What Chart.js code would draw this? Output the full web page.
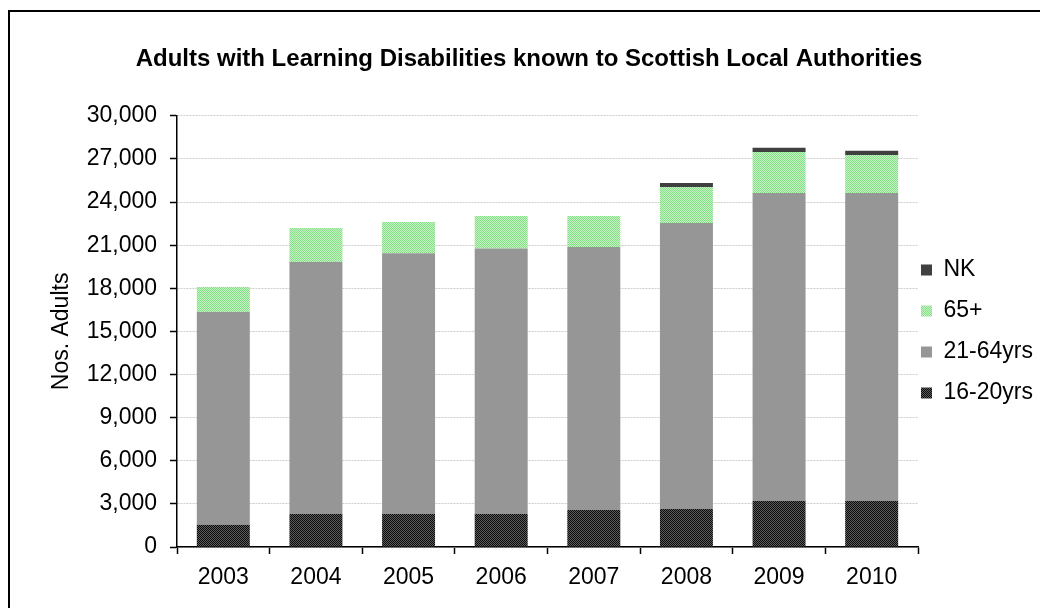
<!DOCTYPE html>
<html>
<head>
<meta charset="utf-8">
<script src="https://cdn.jsdelivr.net/npm/chart.js@4.4.1/dist/chart.umd.min.js"></script>
<style>
    html, body { margin: 0; padding: 0; background: #fff; overflow: hidden; }
    #wrap { position: relative; width: 1040px; height: 608px; }
    #frame { position: absolute; left: 8px; top: 10px; width: 1100px; height: 700px; border: 2px solid #000; }
    #chart { position: absolute; left: 0; top: 0; }
</style>
</head>
<body>
<div id="wrap">
    <canvas id="chart" width="1040" height="608"></canvas>
    <div id="frame"></div>
</div>
<script>
// values
const years = ['2003', '2004', '2005', '2006', '2007', '2008', '2009', '2010'];
const age16to20 = [1550, 2300, 2300, 2300, 2580, 2650, 3200, 3200];
const age21to64 = [14800, 17530, 18140, 18460, 18300, 19900, 21430, 21430];
const age65plus = [1740, 2370, 2180, 2270, 2150, 2500, 2860, 2650];
const notKnown = [0, 0, 0, 0, 0, 280, 280, 280];
const yTicks = [0, 3000, 6000, 9000, 12000, 15000, 18000, 21000, 24000, 27000, 30000];

const fontFamily = "'Liberation Sans', Arial, sans-serif";

function makePattern(a, b) {
    const c = document.createElement('canvas');
    c.width = 2;
    c.height = 2;
    const g = c.getContext('2d');
    g.fillStyle = a;
    g.fillRect(0, 0, 2, 2);
    g.fillStyle = b;
    g.fillRect(1, 0, 1, 1);
    g.fillRect(0, 1, 1, 1);
    return g.createPattern(c, 'repeat');
}

const darkHatch = makePattern('#0c0c0c', '#5c5c5c');
const greenHatch = makePattern('#86de86', '#c4f4c4');

// nudge the legend so the boxes sit close to the plot, like the original
const legendShift = {
    id: 'legendShift',
    afterLayout(chart) {
        if (chart.legend) chart.legend.left -= 15;
    }
};

Chart.defaults.color = '#000';
Chart.defaults.font.family = fontFamily;

new Chart(document.getElementById('chart'), {
    type: 'bar',
    data: {
        labels: years,
        datasets: [
            { label: '16-20yrs', data: age16to20, backgroundColor: darkHatch },
            { label: '21-64yrs', data: age21to64, backgroundColor: '#969696' },
            { label: '65+', data: age65plus, backgroundColor: greenHatch },
            { label: 'NK', data: notKnown, backgroundColor: '#404040' }
        ]
    },
    options: {
        responsive: false,
        animation: false,
        layout: { padding: { left: 18, right: 0, top: 0, bottom: 0 } },
        datasets: {
            bar: { barPercentage: 0.572, categoryPercentage: 1, borderWidth: 0 }
        },
        plugins: {
            title: {
                display: true,
                text: 'Adults with Learning Disabilities known to Scottish Local Authorities',
                font: { size: 24, weight: 'bold' },
                color: '#000',
                padding: { top: 45, bottom: 42 }
            },
            legend: {
                position: 'right',
                fullSize: false,
                reverse: true,
                maxWidth: 122,
                labels: {
                    font: { size: 23 },
                    boxWidth: 11,
                    boxHeight: 11,
                    padding: 18,
                    color: '#000'
                }
            },
            tooltip: { enabled: false }
        },
        scales: {
            x: {
                stacked: true,
                afterFit(scale) { scale.height = 61; },
                grid: {
                    display: true,
                    drawOnChartArea: false,
                    offset: true,
                    tickLength: 7,
                    tickColor: '#000',
                    tickWidth: 1.5
                },
                border: { color: '#000', width: 1.5 },
                ticks: { font: { size: 23 }, color: '#000', padding: 10 }
            },
            y: {
                stacked: true,
                min: 0,
                max: 30000,
                afterFit(scale) { scale.width = 159; },
                afterBuildTicks(scale) { scale.ticks = yTicks.map(v => ({ value: v })); },
                grid: {
                    color: '#cdcdcd',
                    lineWidth: 1,
                    tickLength: 7,
                    tickColor: '#000',
                    tickWidth: 1.5
                },
                border: { color: '#000', width: 1.5, dash: [2, 1] },
                ticks: {
                    font: { size: 23 },
                    color: '#000',
                    padding: 13,
                    callback: v => v.toLocaleString('en-US')
                },
                title: {
                    display: true,
                    text: 'Nos. Adults',
                    font: { size: 23 },
                    color: '#000',
                    padding: { top: 30, bottom: 0 }
                }
            }
        }
    },
    plugins: [legendShift]
});
</script>
</body>
</html>
